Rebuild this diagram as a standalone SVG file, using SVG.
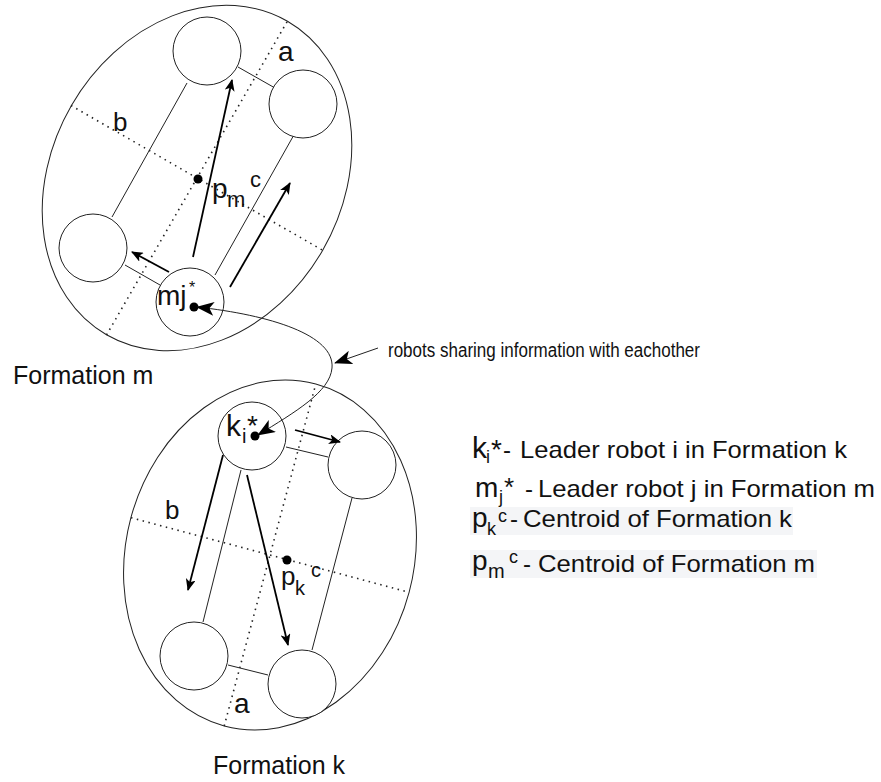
<svg xmlns="http://www.w3.org/2000/svg" width="881" height="782" viewBox="0 0 881 782">
  <style>
    text { font-family: "Liberation Sans", Arial, sans-serif; fill: #111; }
    .outline { fill: #fff; stroke: #222; stroke-width: 1; }
    .robot { fill: #fff; stroke: #222; stroke-width: 1; }
    .axis { fill: none; stroke: #222; stroke-width: 1.6; stroke-dasharray: 1.5 4.5; }
    .side { fill: none; stroke: #222; stroke-width: 1; }
    .vec { fill: none; stroke: #000; stroke-width: 1.8; marker-end: url(#head); }
    .link { fill: none; stroke: #222; stroke-width: 1; }
    .dot { fill: #000; }
    .band { fill: #f4f5f7; }
  </style>
  <defs>
    <marker id="head" markerUnits="userSpaceOnUse" markerWidth="12" markerHeight="10" refX="11" refY="5" orient="auto">
      <path d="M0,0 L12,5 L0,10 L3,5 z" fill="#000"/>
    </marker>
    <marker id="bighead" markerUnits="userSpaceOnUse" markerWidth="18" markerHeight="14" refX="17" refY="7" orient="auto-start-reverse">
      <path d="M0,0 L18,7 L0,14 L4.5,7 z" fill="#000"/>
    </marker>
  </defs>

  <rect width="881" height="782" fill="#fff"/>

  <!-- Formation m -->
  <g id="formation-m">
    <ellipse class="outline" cx="197" cy="178" rx="145" ry="181" transform="rotate(30 197 178)"/>
    <line class="axis" x1="106.5" y1="335" x2="287.5" y2="21"/>
    <line class="axis" x1="71" y1="105.5" x2="323" y2="250.5"/>
    <line class="side" x1="238" y1="67" x2="275" y2="88"/>
    <line class="side" x1="187" y1="83" x2="112" y2="217"/>
    <line class="side" x1="125" y1="265" x2="160" y2="285"/>
    <line class="side" x1="215" y1="275" x2="295" y2="133"/>
    <text x="278" y="61" font-size="28">a</text>
    <text x="113" y="131" font-size="26">b</text>
    <circle class="dot" cx="198" cy="179" r="4.5"/>
    <text x="212" y="198" font-size="28">p</text>
    <text x="227" y="207" font-size="22">m</text>
    <text x="250" y="187" font-size="22">c</text>
  </g>
  <g id="robot-m1"><circle class="robot" cx="207" cy="51" r="34"/></g>
  <g id="robot-m2"><circle class="robot" cx="303" cy="104" r="34"/></g>
  <g id="robot-m3"><circle class="robot" cx="93" cy="248" r="34"/></g>
  <g id="robot-mj">
    <circle class="robot" cx="190" cy="302" r="34"/>
    <text x="157" y="305" font-size="28">mj</text>
    <text x="189" y="293" font-size="16">*</text>
    <circle class="dot" cx="194" cy="307" r="4.5"/>
  </g>

  <!-- Formation k -->
  <g id="formation-k">
    <ellipse class="outline" cx="270" cy="555" rx="144" ry="177" transform="rotate(15 270 555)"/>
    <line class="axis" x1="224.2" y1="726" x2="315.8" y2="384"/>
    <line class="axis" x1="131" y1="517.7" x2="409" y2="592.3"/>
    <line class="side" x1="286" y1="447" x2="328" y2="457"/>
    <line class="side" x1="241" y1="470" x2="203" y2="622"/>
    <line class="side" x1="352" y1="498" x2="312" y2="650"/>
    <line class="side" x1="228" y1="665" x2="268" y2="675"/>
    <text x="165" y="519" font-size="26">b</text>
    <text x="234" y="713" font-size="28">a</text>
    <circle class="dot" cx="287" cy="560" r="4.5"/>
    <text x="281" y="585" font-size="26">p</text>
    <text x="295" y="595" font-size="20">k</text>
    <text x="311" y="577" font-size="20">c</text>
  </g>
  <g id="robot-ki">
    <circle class="robot" cx="252" cy="436" r="34"/>
    <text x="226" y="436" font-size="30">k</text>
    <text x="242" y="443" font-size="20">i</text>
    <text x="247" y="435" font-size="28">*</text>
    <circle class="dot" cx="255" cy="436" r="4.5"/>
  </g>
  <g id="robot-k2"><circle class="robot" cx="362" cy="465" r="34"/></g>
  <g id="robot-k3"><circle class="robot" cx="194" cy="656" r="34"/></g>
  <g id="robot-k4"><circle class="robot" cx="302" cy="684" r="34"/></g>

  <!-- connectors -->
  <g id="connectors">
    <line class="vec" x1="193" y1="257" x2="232" y2="80"/>
    <line class="vec" x1="169" y1="272" x2="132" y2="252"/>
    <line class="vec" x1="230" y1="287" x2="290" y2="183"/>
    <line class="vec" x1="295" y1="430" x2="340" y2="442"/>
    <line class="vec" x1="223" y1="455" x2="188" y2="590"/>
    <line class="vec" x1="247" y1="475" x2="288" y2="645"/>
    <path class="link" d="M197,307 C270,315 335,335 332,368 C330,392 295,412 258,435" marker-start="url(#bighead)" marker-end="url(#bighead)"/>
    <line class="link" x1="378" y1="348" x2="335" y2="363" marker-end="url(#bighead)"/>
  </g>

  <!-- labels -->
  <g id="labels">
    <text x="388" y="357" font-size="20" textLength="312" lengthAdjust="spacingAndGlyphs">robots sharing information with eachother</text>
    <text x="13" y="384" font-size="25">Formation m</text>
    <text x="213" y="774" font-size="25">Formation k</text>
  </g>

  <!-- legend -->
  <g id="legend">
    <rect class="band" x="470" y="507" width="323" height="28"/>
    <rect class="band" x="470" y="550" width="347" height="28"/>

    <text x="472" y="458" font-size="30">k</text>
    <text x="486" y="463" font-size="18">i</text>
    <text x="491" y="459" font-size="28">*</text>
    <text x="503" y="458" font-size="24">-</text>
    <text x="520" y="458" font-size="24" textLength="327" lengthAdjust="spacingAndGlyphs">Leader robot i in Formation k</text>

    <text x="475" y="497" font-size="28">m</text>
    <text x="499" y="503" font-size="18">j</text>
    <text x="504" y="496" font-size="26">*</text>
    <text x="525" y="497" font-size="24">-</text>
    <text x="538" y="497" font-size="24" textLength="337" lengthAdjust="spacingAndGlyphs">Leader robot j in Formation m</text>

    <text x="472" y="527" font-size="28">p</text>
    <text x="487" y="535" font-size="18">k</text>
    <text x="498" y="522" font-size="18">c</text>
    <text x="510" y="527" font-size="24">-</text>
    <text x="523" y="527" font-size="24" textLength="269" lengthAdjust="spacingAndGlyphs">Centroid of Formation k</text>

    <text x="472" y="570" font-size="28">p</text>
    <text x="488" y="578" font-size="20">m</text>
    <text x="509" y="563" font-size="18">c</text>
    <text x="523" y="572" font-size="24">-</text>
    <text x="538" y="572" font-size="24" textLength="277" lengthAdjust="spacingAndGlyphs">Centroid of Formation m</text>
  </g>
</svg>
